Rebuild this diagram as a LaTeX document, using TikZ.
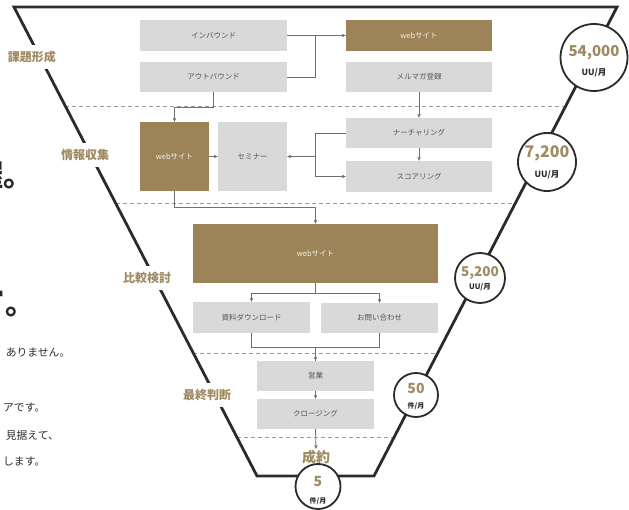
\documentclass[tikz,border=0pt]{standalone}
\usepackage{fontspec}
\setmainfont{Noto Sans CJK JP}
\usetikzlibrary{arrows.meta,calc}

\definecolor{boxgray}{HTML}{D9D9D9}
\definecolor{boxbrown}{HTML}{9C8358}
\definecolor{gold}{HTML}{A08A62}
\definecolor{ink}{HTML}{2B2B2B}
\definecolor{wirecol}{HTML}{707070}
\definecolor{boxtext}{HTML}{555555}
\definecolor{sepcol}{HTML}{9A9A9A}

\tikzset{
  gbox/.style={fill=boxgray, text=boxtext, inner sep=0pt,
    font=\fontsize{7.5}{9}\selectfont},
  bbox/.style={fill=boxbrown, text=white!88!boxbrown, inner sep=0pt,
    font=\fontsize{7.5}{9}\selectfont},
  stage/.style={fill=white, text=gold, inner xsep=2pt, inner ysep=6.5pt,
    font=\bfseries\fontsize{12}{13}\selectfont},
  count/.style={circle, draw=ink, line width=1.8pt, fill=white, inner sep=0pt},
  num/.style={text=gold, inner sep=0pt, text height=.72em, text depth=0pt,
    font=\bfseries\fontsize{15}{15}\selectfont},
  unit/.style={text=ink, inner sep=0pt, text height=.72em, text depth=0pt,
    font=\bfseries\fontsize{8.5}{9}\selectfont},
  wire/.style={draw=wirecol, line width=0.8pt},
  arr/.style={wire, -{Stealth[length=4pt,width=3.6pt]}},
  sepline/.style={draw=sepcol, line width=0.7pt, dash pattern=on 4pt off 3pt},
  side/.style={text=ink, inner sep=0pt, font=\fontsize{10.8}{11}\selectfont},
  head/.style={text=ink!90!black, inner sep=0pt, font=\bfseries\fontsize{30}{30}\selectfont},
}

\begin{document}
\begin{tikzpicture}[x=1pt,y=-1pt]
\useasboundingbox (0,0) rectangle (629,510);

% funnel corners
\coordinate (tl) at (14,7);
\coordinate (tr) at (617,7);
\coordinate (br) at (374,476);
\coordinate (bl) at (257,476);

% stage separators
\draw[sepline] ($(tl)!0.2111!(bl)$) -- ($(tr)!0.2111!(br)$);
\draw[sepline] ($(tl)!0.4179!(bl)$) -- ($(tr)!0.4179!(br)$);
\draw[sepline] ($(tl)!0.7377!(bl)$) -- ($(tr)!0.7377!(br)$);
\draw[sepline] ($(tl)!0.9168!(bl)$) -- ($(tr)!0.9168!(br)$);

% funnel outline
\draw[ink, line width=2.8pt, line join=miter] (tl) -- (tr) -- (br) -- (bl) -- cycle;

% stage labels
\node[stage] (s1) at (32,57) {課題形成};
\node[stage] (s2) at (85,155) {情報収集};
\node[stage] (s3) at (147,278) {比較検討};
\node[stage] (s4) at (207,395) {最終判断};

% text running in from the left
\node[head, anchor=base west] (h1) at (-27,187) {握。};
\node[head, anchor=base west] (h2) at (-25,315) {\raisebox{9pt}{ー}。};
\node[side, anchor=east] (t1) at (70.5,353) {ありません。};
\node[side, anchor=east] (t2) at (45.5,408) {アです。};
\node[side, anchor=east] (t3) at (59,435) {見据えて、};
\node[side, anchor=east] (t4) at (45.5,462) {します。};

% boxes
\node[gbox, minimum width=147pt, minimum height=31pt] (inb) at (213.5,35.5) {インバウンド};
\node[gbox, minimum width=147pt, minimum height=30pt] (outb) at (213.5,77) {アウトバウンド};
\node[bbox, minimum width=146pt, minimum height=31pt] (webtop) at (419,35.5) {webサイト};
\node[gbox, minimum width=146pt, minimum height=30pt] (mail) at (419,77) {メルマガ登録};
\node[bbox, minimum width=69pt, minimum height=69pt] (webmid) at (174.5,156.5) {webサイト};
\node[gbox, minimum width=69pt, minimum height=69pt] (seminar) at (252.5,156.5) {セミナー};
\node[gbox, minimum width=146pt, minimum height=30pt] (nurt) at (419,133) {ナーチャリング};
\node[gbox, minimum width=146pt, minimum height=31pt] (score) at (419,176.5) {スコアリング};
\node[bbox, minimum width=245pt, minimum height=59pt] (webbig) at (315.5,253.5) {webサイト};
\node[gbox, minimum width=117pt, minimum height=31pt] (dl) at (251.5,317.5) {資料ダウンロード};
\node[gbox, minimum width=117pt, minimum height=30pt] (inq) at (379.5,318) {お問い合わせ};
\node[gbox, minimum width=117pt, minimum height=30pt] (sales) at (315.5,376) {営業};
\node[gbox, minimum width=117pt, minimum height=30pt] (close) at (315.5,414) {クロージング};
\node[text=gold, inner sep=1pt, font=\bfseries\fontsize{14}{15}\selectfont] (deal) at (316,457) {成約};

% connectors
\coordinate (j1) at (315,35.5);
\coordinate (j2) at (315,156.5);
\draw[arr] (inb.east) -- (webtop.west);
\draw[wire] (outb.east) -| (j1);
\draw[arr] (outb.south) -- ++(0,15) -| (webmid.north);
\draw[arr] (webmid.east) -- (seminar.west);
\draw[arr] (mail.south) -- (nurt.north);
\draw[arr] (nurt.south) -- (score.north);
\draw[wire] (nurt.west) -| (j2);
\draw[arr] (j2) |- (score.west);
\draw[arr] (j2) -- (seminar.east);
\draw[arr] (webmid.south) -- ++(0,16) -| (webbig.north);
\draw[arr] (webbig.south) -- ++(0,10) -| (dl.north);
\draw[arr] (webbig.south) -- ++(0,10) -| (inq.north);
\draw[wire] (inq.south) -- ++(0,14) -| (sales.north);
\draw[arr] (dl.south) -- ++(0,14) -| (sales.north);
\draw[arr] (sales.south) -- (close.north);
\draw[arr] (close.south) -- (deal.north);

% monthly counts
\node[count, minimum size=67pt] (c1) at (594,57.5) {};
\node[num] at ($(c1)+(0,-5)$) {54,000};
\node[unit] at ($(c1)+(0,14.5)$) {UU/月};

\node[count, minimum size=58pt] (c2) at (547,162) {};
\node[num, font=\bfseries\fontsize{16}{16}\selectfont] at ($(c2)+(0,-8)$) {7,200};
\node[unit] at ($(c2)+(0,11.5)$) {UU/月};

\node[count, minimum size=50pt] (c3) at (480,278) {};
\node[num, font=\bfseries\fontsize{13.5}{14}\selectfont] at ($(c3)+(0,-5)$) {5,200};
\node[unit, font=\bfseries\fontsize{7.5}{8}\selectfont] at ($(c3)+(0,8)$) {UU/月};

\node[count, minimum size=44pt] (c4) at (416,395) {};
\node[num, font=\bfseries\fontsize{14}{14}\selectfont] at ($(c4)+(0,-5)$) {50};
\node[unit, font=\bfseries\fontsize{7}{8}\selectfont] at ($(c4)+(0,9.5)$) {件/月};

\node[count, minimum size=45pt] (c5) at (318,486.5) {};
\node[num, font=\bfseries\fontsize{14}{14}\selectfont] at ($(c5)+(0,-3.5)$) {5};
\node[unit, font=\bfseries\fontsize{7}{8}\selectfont] at ($(c5)+(0,13)$) {件/月};
\end{tikzpicture}
\end{document}
